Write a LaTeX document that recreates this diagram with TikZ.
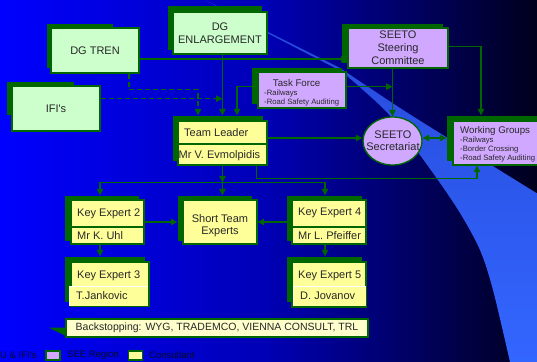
\documentclass[tikz,border=0pt]{standalone}
\usepackage{fontspec}
\setmainfont{Liberation Sans}
\usetikzlibrary{arrows.meta,shapes.geometric,calc}
\definecolor{dg}{RGB}{0,102,0}
\definecolor{lgreen}{RGB}{204,255,204}
\definecolor{lav}{RGB}{208,168,255}
\definecolor{lyel}{RGB}{255,255,153}
\definecolor{cream}{RGB}{255,255,204}
\definecolor{txt}{RGB}{40,40,40}
\definecolor{legtxt}{RGB}{10,10,40}
\definecolor{bgl}{RGB}{0,0,255}
\definecolor{bgm}{RGB}{0,0,180}
\definecolor{bgr}{RGB}{0,0,28}
\definecolor{bandt}{RGB}{38,72,215}
\definecolor{bandb}{RGB}{51,102,255}
\begin{document}
\begin{tikzpicture}[x=1pt,y=-1pt,
  box/.style={draw=dg,line width=1.3pt,inner sep=0pt,text=txt,align=center,font=\fontsize{11}{12.5}\selectfont},
  gbox/.style={box,fill=lgreen},
  pbox/.style={box,fill=lav},
  ybox/.style={box,fill=lyel},
  shd/.style={fill=dg},
  conn/.style={draw=dg,line width=1.2pt,-{Triangle[length=6.5pt,width=6.5pt]}},
  dblconn/.style={draw=dg,line width=1.2pt,{Triangle[length=6.5pt,width=6.5pt]}-{Triangle[length=6.5pt,width=6.5pt]}},
  dconn/.style={conn,dash pattern=on 5pt off 3pt},
  lbl/.style={inner sep=0pt,text=txt,font=\fontsize{11}{12.5}\selectfont,anchor=west},
  txtc/.style={inner sep=0pt,text=txt,align=center,font=\fontsize{11}{12}\selectfont},
  sml/.style={inner sep=0pt,text=txt,font=\fontsize{7.7}{9}\selectfont,anchor=west},
  medlbl/.style={inner sep=0pt,text=txt,font=\fontsize{9.7}{11}\selectfont,anchor=west},
  leglbl/.style={inner sep=0pt,text=legtxt,font=\fontsize{9.5}{11}\selectfont,anchor=west},
  legbox/.style={draw=dg,line width=1.2pt,minimum width=14pt,minimum height=9pt,inner sep=0pt},
]
\useasboundingbox (0,0) rectangle (537,361);
% background
\shade[left color=bgl,right color=bgr,middle color=bgm] (0,0) rectangle (537,361);
\shade[top color=bandt,bottom color=bandb]
  (203,-1) -- (260,28) -- (340,68)
  -- plot[smooth,tension=0.5] coordinates {(340,68) (400,108) (467,150) (538,194)}
  -- (538,362)
  -- plot[smooth,tension=0.5] coordinates {(510,362) (493,290) (480,250) (460,213) (433,173) (392,118) (362,89) (341,71)}
  -- (260,29.3) -- (203,-1) -- cycle;

% shadows
\fill[shd] (47,24) rectangle (113,68);
\fill[shd] (7,82) rectangle (74,115);
\fill[shd] (168,6) rectangle (262,50);
\fill[shd] (173,116) rectangle (263,161);
\fill[shd] (252,68) rectangle (342,104);
\fill[shd] (342,24) rectangle (443,63);
\fill[shd] (447,116) rectangle (537,161);
\fill[shd] (65,196) rectangle (139,241);
\fill[shd] (178,196) rectangle (252,241);
\fill[shd] (65,257) rectangle (145,302);
\fill[shd] (287,196) rectangle (362,241);
\fill[shd] (287,257) rectangle (362,302);

% boxes
\node[gbox,minimum width=88pt,minimum height=45pt] (dgtren) at (95,50.5) {DG TREN};
\node[gbox,minimum width=88pt,minimum height=45pt] (ifis) at (56,108.5) {IFI\textquotesingle s};
\node[gbox,minimum width=94pt,minimum height=42pt] (dgenl) at (220,33) {DG\\ENLARGEMENT};
\node[ybox,minimum width=89pt,minimum height=44pt] (tl) at (222.5,143) {};
\node[pbox,minimum width=88pt,minimum height=36pt] (tf) at (302,90) {};
\node[pbox,minimum width=100pt,minimum height=40pt,font=\fontsize{11}{13}\selectfont] (sc) at (398,48) {SEETO\\Steering\\Committee};
\node[pbox,ellipse,minimum width=59pt,minimum height=48pt] (sec) at (392.5,141) {};
\node[txtc,font=\fontsize{11}{11.6}\selectfont] (sect) at (393,141) {SEETO\\Secretariat};
\node[pbox,minimum width=87pt,minimum height=44pt] (wg) at (496.5,143) {};
\node[ybox,minimum width=73pt,minimum height=44pt] (ke2) at (107.5,222) {};
\node[ybox,minimum width=74pt,minimum height=44pt] (ste) at (220,222) {};
\node[ybox,minimum width=78pt,minimum height=44pt] (ke3) at (110,284) {};
\node[ybox,minimum width=74pt,minimum height=44pt] (ke4) at (329,222) {};
\node[ybox,minimum width=74pt,minimum height=45pt] (ke5) at (329,284.5) {};

% dividers and lower cells
\draw[dg,line width=1.2pt] ([yshift=-1pt]tl.west) -- ([yshift=-1pt]tl.east);
\draw[dg,line width=1.2pt] ([yshift=-5pt]ke2.west) -- ([yshift=-5pt]ke2.east);
\draw[dg,line width=1.2pt] ([yshift=-5pt]ke4.west) -- ([yshift=-5pt]ke4.east);
\fill[lyel] (69,286) rectangle (148,305.5);
\draw[white,line width=1pt] (69,305.5) -- (69,286) -- (148,286);
\fill[lyel] (293,286) rectangle (365.8,306.3);
\draw[white,line width=1pt] (293,306.3) -- (293,286) -- (365.8,286);

% texts
\node[lbl] (tlt) at (184,133) {Team Leader};
\node[lbl] (tln) at (178.5,155.5) {Mr V. Evmolpidis};
\node[lbl] (ke2t) at (77,213.3) {Key Expert 2};
\node[lbl] (ke2n) at (77,236) {Mr K. Uhl};
\node[lbl] (ke3t) at (77,275.7) {Key Expert 3};
\node[lbl] (ke3n) at (76,295.7) {T.Jankovic};
\node[lbl] (ke4t) at (298,213.3) {Key Expert 4};
\node[lbl] (ke4n) at (298,236) {Mr L. Pfeiffer};
\node[lbl] (ke5t) at (298,275.7) {Key Expert 5};
\node[lbl] (ke5n) at (300,295.7) {D. Jovanov};
\node[txtc] (stet) at (220,225.7) {Short Team\\Experts};
\node[medlbl] (tft) at (272.7,83) {Task Force};
\node[sml] (tf1) at (264,93.3) {-Railways};
\node[sml] (tf2) at (264,102.7) {-Road Safety Auditing};
\node[medlbl] (wgt) at (460,130.7) {Working Groups};
\node[sml] (wg1) at (460,140.7) {-Railways};
\node[sml] (wg2) at (460,149.7) {-Border Crossing};
\node[sml] (wg3) at (460,158.7) {-Road Safety Auditing};

% backstopping
\fill[dg] (49,327.7) -- (67,327.7) -- (67,336.5) -- cycle;
\node[box,fill=cream,minimum width=302pt,minimum height=18pt,font=\fontsize{10.5}{12}\selectfont] (bs) at (217,328) {Backstopping: WYG, TRADEMCO, VIENNA CONSULT, TRL};

% legend
\node[leglbl] (l1) at (0,355.5) {U \& IFI\textquotesingle s};
\node[legbox,fill=lav] (l2) at (53,355.5) {};
\node[leglbl] (l3) at (67,355.5) {SEE Region};
\node[legbox,fill=lyel] (l4) at (135.5,355.5) {};
\node[leglbl] (l5) at (149,355.5) {Consultant};

% connectors
\coordinate (a1) at ([yshift=-8.5pt]dgtren.east);
\draw[conn] (a1) -- (a1 -| sc.west);
\draw[conn] (dgenl.south -| tl.north) -- ([yshift=5pt]tl.north);
\coordinate (a3) at ([xshift=34pt]dgtren.south);
\coordinate (b3) at ([xshift=-24.5pt,yshift=5pt]tl.north);
\draw[dconn] (a3) |- ([yshift=26pt]b3) -- (b3);
\coordinate (a4) at ([yshift=9.8pt]ifis.east);
\draw[dconn] (a4) -- (a4 -| tl.north);
\coordinate (a5) at ([yshift=3.3pt]tf.west);
\draw[conn] (a5) -| ([xshift=14.5pt,yshift=5pt]tl.north);
\coordinate (a6) at ([yshift=3.3pt]tf.east);
\draw[conn] (a6) -- (a6 -| sec.north);
\draw[conn] (sc.south -| sec.north) -- (sec.north);
\coordinate (a8) at ([yshift=1.3pt]sc.east);
\draw[conn] (a8) -| ([xshift=-15.5pt,yshift=5pt]wg.north);
\coordinate (a9) at ([yshift=5pt]tl.east);
\draw[conn] (a9) -- (a9 -| sec.west);
\coordinate (a10) at ([yshift=3pt]sec.east);
\coordinate (b10) at (a10 -| wg.west);
\draw[dblconn] (a10) -- ([xshift=-6pt]b10);
\coordinate (a11) at ([xshift=34pt]tl.south);
\coordinate (b11) at ([xshift=-19.5pt]wg.south);
\draw[conn] (a11) -- ++(0,13) -| (b11);
\coordinate (j) at ([yshift=-17pt]tl.south);
\draw[conn] (tl.south) -- (j);
\draw[conn] (j) -| ([xshift=-7.5pt,yshift=4pt]ke2.north);
\draw[conn] (j) -| ([xshift=-4pt,yshift=4pt]ke4.north);
\coordinate (b15) at ([yshift=4pt]ste.north);
\draw[conn] (j) -- (j |- b15);
\coordinate (b16) at (ke2.east -| ste.west);
\draw[conn] (ke2.east) -- ([xshift=-5pt]b16);
\coordinate (b17) at (ke4.west -| ste.east);
\draw[conn] (ke4.west) -- (b17);
\draw[conn] ([xshift=-7.5pt]ke2.south) -- ([xshift=-10pt,yshift=5pt]ke3.north);
\draw[conn] ([xshift=-4pt]ke4.south) -- ([xshift=-4pt,yshift=5pt]ke5.north);
\end{tikzpicture}
\end{document}
